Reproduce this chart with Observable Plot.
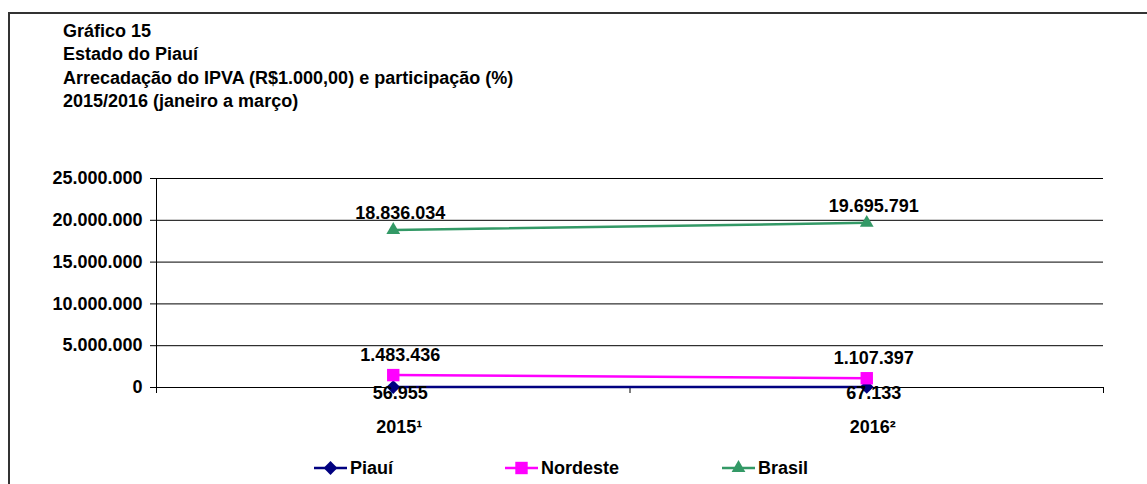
<!DOCTYPE html>
<html>
<head>
<meta charset="utf-8">
<script src="https://cdn.jsdelivr.net/npm/d3@7"></script>
<script src="https://cdn.jsdelivr.net/npm/@observablehq/plot@0.6"></script>
<style>
  html, body { margin: 0; padding: 0; background: #fff; width: 1147px; height: 484px; overflow: hidden; }
  body { position: relative; font-family: Arial, "Liberation Sans", sans-serif; font-weight: bold; color: #000; }
  #frame { position: absolute; left: 8px; top: 12px; width: 1300px; height: 600px; border-left: 2px solid #333; border-top: 2px solid #333; }
  #title { position: absolute; left: 63px; top: 20px; font-size: 18px; line-height: 23.3px; white-space: nowrap; }
  #chart { position: absolute; left: 0; top: 160px; }
  #legend { position: absolute; left: 0; top: 456px; width: 1147px; height: 24px; }
  .item { position: absolute; top: 0; height: 24px; display: flex; align-items: center; font-size: 18px; white-space: nowrap; }
  .item svg { margin-right: 2px; }
</style>
</head>
<body>
<div id="frame"></div>
<div id="title">
  <div>Gráfico 15</div>
  <div>Estado do Piauí</div>
  <div>Arrecadação do IPVA (R$1.000,00) e participação (%)</div>
  <div>2015/2016 (janeiro a março)</div>
</div>
<div id="chart"></div>
<div id="legend"></div>
<script>
const categories = ["2015¹", "2016²"];
const seriesNames = ["Piauí", "Nordeste", "Brasil"];
const piaui = [56955, 67133];
const nordeste = [1483436, 1107397];
const brasil = [18836034, 19695791];
const yTicks = [0, 5000000, 10000000, 15000000, 20000000, 25000000];
const colors = ["#000080", "#FF00FF", "#339966"];
const symbols = ["diamond2", "square", "triangle"];
const symbolR = [6.2, 7.0, 5.1];
const labelDy = [6, -20, -17];

const values = [piaui, nordeste, brasil];
const rows = [];
seriesNames.forEach((s, si) => {
  categories.forEach((c, ci) => {
    rows.push({series: s, si, cat: c, ci, x: ci + 0.5, value: values[si][ci]});
  });
});

const loc = d3.formatLocale({decimal: ",", thousands: ".", grouping: [3], currency: ["R$", ""]});
const fmt = loc.format(",d");

const marks = [
  Plot.ruleY(yTicks, {stroke: "#000", strokeWidth: 1}),
  Plot.ruleX([0], {y1: 0, y2: 25000000, stroke: "#000", strokeWidth: 1}),
  Plot.axisY({ticks: yTicks, tickFormat: fmt, tickSize: 6, tickPadding: 8, fontSize: 18, fontWeight: "bold", fill: "#000", stroke: "#000", label: null}),
  Plot.axisX({ticks: d3.range(categories.length + 1), tickFormat: () => "", tickSize: 6, stroke: "#000", label: null}),
  Plot.text(categories, {x: (d, i) => i + 0.5, y: 0, dy: 40, dx: 6, text: d => d, fontSize: 18, fontWeight: "bold", fill: "#000"})
];
seriesNames.forEach((s, si) => {
  const d = rows.filter(r => r.si === si);
  marks.push(Plot.line(d, {x: "x", y: "value", stroke: colors[si], strokeWidth: 2.5}));
  marks.push(Plot.dot(d, {x: "x", y: "value", symbol: () => symbols[si], r: symbolR[si], fill: colors[si], stroke: "none"}));
});
seriesNames.forEach((s, si) => {
  const d = rows.filter(r => r.si === si);
  marks.push(Plot.text(d, {x: "x", y: "value", text: r => fmt(r.value), dy: labelDy[si], dx: 7, fontSize: 18, fontWeight: "bold", fill: "#000"}));
});

const chart = Plot.plot({
  width: 1147,
  height: 290,
  marginLeft: 156,
  marginRight: 44,
  marginTop: 18,
  marginBottom: 63,
  style: {fontFamily: 'Arial, "Liberation Sans", sans-serif', fontWeight: "bold", fontSize: "18px", background: "transparent", overflow: "visible"},
  x: {type: "linear", domain: [0, categories.length], axis: null},
  y: {domain: [0, 25000000], axis: null},
  symbol: {type: "identity"},
  marks
});
document.getElementById("chart").appendChild(chart);

// legend
const legendX = [314, 505, 722];
const legend = d3.select("#legend");
const symMap = {diamond2: d3.symbolDiamond2, square: d3.symbolSquare, triangle: d3.symbolTriangle};
seriesNames.forEach((s, si) => {
  const item = legend.append("div").attr("class", "item").style("left", legendX[si] + "px");
  const svg = item.append("svg").attr("width", 34).attr("height", 24);
  svg.append("line").attr("x1", 0).attr("x2", 33).attr("y1", 12).attr("y2", 12)
    .attr("stroke", colors[si]).attr("stroke-width", 2.5);
  svg.append("path").attr("transform", "translate(16.5,12)")
    .attr("d", d3.symbol(symMap[symbols[si]], Math.PI * symbolR[si] * symbolR[si])())
    .attr("fill", colors[si]);
  item.append("span").text(s);
});
</script>
</body>
</html>
